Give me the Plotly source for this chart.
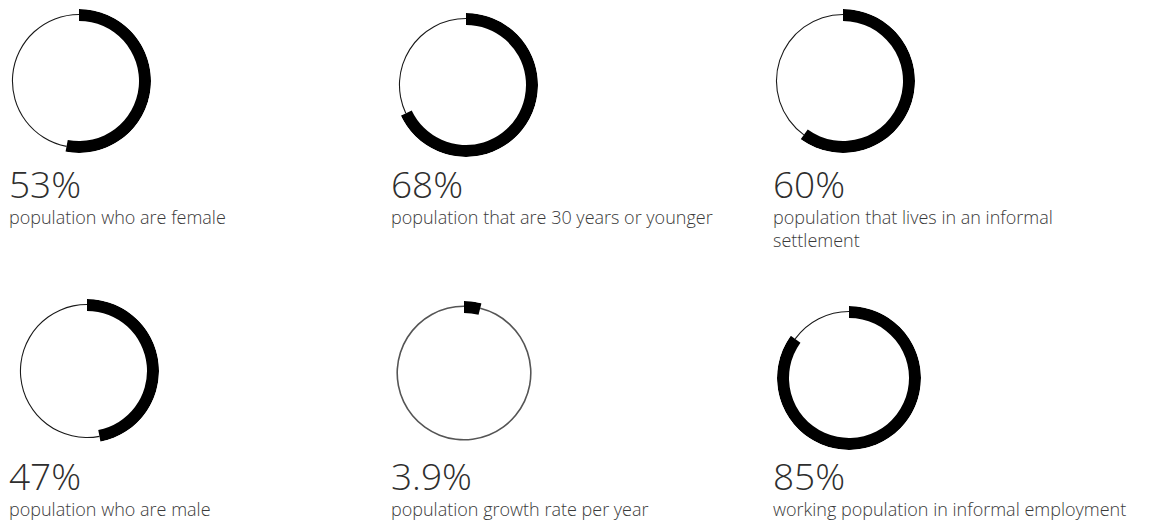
import plotly.graph_objects as go

W, H = 1150, 524

values = [53, 68, 60, 47, 3.9, 85]
value_labels = ["53%", "68%", "60%", "47%", "3.9%", "85%"]
descriptions = [
    "population who are female",
    "population that are 30 years or younger",
    "population that lives in an informal<br>settlement",
    "population who are male",
    "population growth rate per year",
    "working population in informal employment",
]

# layout (pixels): donut centres and text anchors
centers = [(79, 81), (466, 85), (843, 81), (87, 371), (464, 373), (849, 378)]
text_x = [7, 389, 771, 7, 389, 771]
text_y = [156, 156, 156, 448, 448, 448]
ring_colors = ["#1a1a1a", "#1a1a1a", "#1a1a1a", "#1a1a1a", "#555555", "#1a1a1a"]
ring_widths = [1.1, 1.1, 1.1, 1.1, 1.6, 1.1]

R = 72          # outer radius in px (also radial range)
THICK_IN = 60   # inner radius of thick arc
RING_R = 66     # thin ring radius

fig = go.Figure()
layout_upd = {}
for i, (v, (cx, cy)) in enumerate(zip(values, centers)):
    pid = "polar" if i == 0 else f"polar{i+1}"
    sub = "polar" if i == 0 else f"polar{i+1}"
    deg = v * 3.6
    # thin ring (remainder)
    fig.add_trace(go.Barpolar(
        theta=[(deg + 360) / 2], width=[360 - deg], base=[RING_R], r=[ring_widths[i]],
        marker=dict(color=ring_colors[i], line=dict(width=0)),
        subplot=sub, showlegend=False, hoverinfo="skip"))
    # thick arc (value)
    fig.add_trace(go.Barpolar(
        theta=[deg / 2], width=[deg], base=[THICK_IN], r=[R - THICK_IN],
        marker=dict(color="#000000", line=dict(width=0)),
        subplot=sub, showlegend=False, hoverinfo="skip"))
    layout_upd[pid] = dict(
        domain=dict(x=[(cx - R) / W, (cx + R) / W],
                    y=[1 - (cy + R) / H, 1 - (cy - R) / H]),
        bgcolor="rgba(0,0,0,0)",
        bargap=0,
        radialaxis=dict(visible=False, range=[0, R]),
        angularaxis=dict(visible=False, rotation=90, direction="clockwise",
                         showline=False, showgrid=False),
        hole=0,
    )

annotations = []
for lab, desc, tx, ty in zip(value_labels, descriptions, text_x, text_y):
    annotations.append(dict(
        text=lab, x=tx / W, y=1 - ty / H, xref="paper", yref="paper",
        xanchor="left", yanchor="top", showarrow=False, align="left",
        font=dict(family="Open Sans", size=37, color="#2e2e2e", weight=300)))
    annotations.append(dict(
        text=desc, x=tx / W, y=1 - (ty + 47) / H, xref="paper", yref="paper",
        xanchor="left", yanchor="top", showarrow=False, align="left",
        font=dict(family="Open Sans", size=18, color="#3a3a3a", weight=300)))

fig.update_layout(
    width=W, height=H, margin=dict(l=0, r=0, t=0, b=0),
    paper_bgcolor="white", plot_bgcolor="white",
    annotations=annotations, showlegend=False,
    **layout_upd,
)
fig.write_html("out.html")
